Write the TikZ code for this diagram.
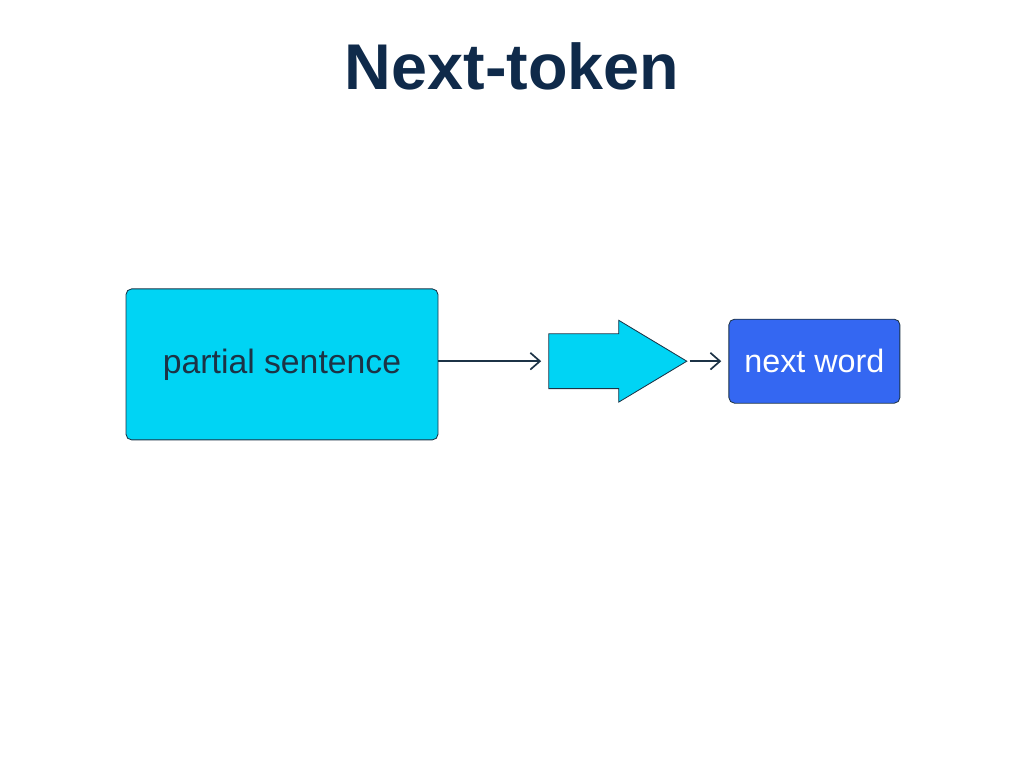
\documentclass[tikz,border=0pt]{standalone}
\usepackage{fontspec}
\setmainfont{Liberation Sans}
\usetikzlibrary{arrows.meta,positioning,shapes.arrows}
\definecolor{navy}{HTML}{0F2A4A}
\definecolor{ink}{HTML}{1C3346}
\definecolor{skycyan}{HTML}{00D4F4}
\definecolor{wordblue}{HTML}{3467F2}

\begin{document}
\begin{tikzpicture}[>={Straight Barb[length=2.4mm,width=4.2mm]},
 box/.style={draw=ink,line width=.6pt,rounded corners=4pt,align=center,font=\fontsize{23}{26}\selectfont},
 link/.style={->,draw=ink,line width=1.2pt}]
\useasboundingbox (0,0) rectangle (25.6,-19.2);
\node[font=\fontsize{46}{50}\bfseries,text=navy] (title) at (12.8,-1.66) {Next-token};
\node[box,fill=skycyan,text=ink,minimum width=7.8cm,minimum height=3.775cm,font=\fontsize{24}{27}\selectfont] (sent) at (7.05,-9.11) {partial sentence};
\node[single arrow,draw=ink,line width=.6pt,fill=skycyan,inner xsep=0pt,inner ysep=.675cm,
 single arrow head extend=.3375cm,single arrow tip angle=62,minimum height=3.45cm] (model) at (14.875,-9.03) {};
\node[box,fill=wordblue,text=white,minimum width=4.275cm,minimum height=2.1cm] (word) at (20.36,-9.03) {next word};
\draw[link] (sent.east|-model) -- ([xshift=-.18cm]model.west);
\draw[link] ([xshift=.05cm]model.tip) -- ([xshift=-.18cm]word.west);
\end{tikzpicture}
\end{document}
